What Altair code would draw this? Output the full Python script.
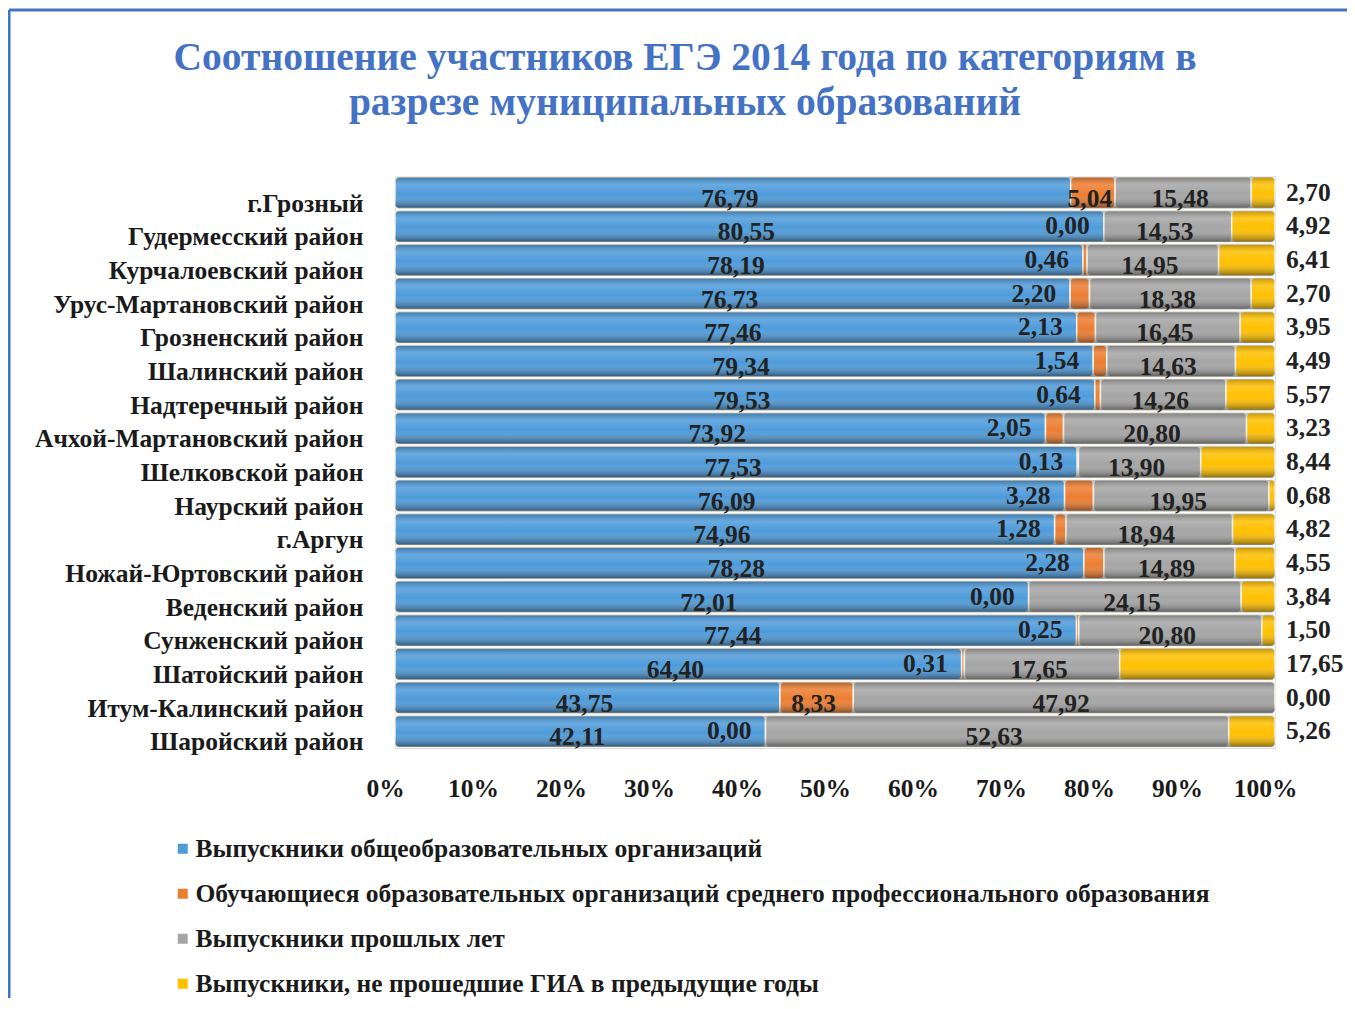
import altair as alt
import pandas as pd

districts = ["г.Грозный", "Гудермесский район", "Курчалоевский район",
             "Урус-Мартановский район", "Грозненский район", "Шалинский район",
             "Надтеречный район", "Ачхой-Мартановский район", "Шелковской район",
             "Наурский район", "г.Аргун", "Ножай-Юртовский район", "Веденский район",
             "Сунженский район", "Шатойский район", "Итум-Калинский район",
             "Шаройский район"]
school = [76.79, 80.55, 78.19, 76.73, 77.46, 79.34, 79.53, 73.92, 77.53,
          76.09, 74.96, 78.28, 72.01, 77.44, 64.40, 43.75, 42.11]
spo = [5.04, 0.00, 0.46, 2.20, 2.13, 1.54, 0.64, 2.05, 0.13,
       3.28, 1.28, 2.28, 0.00, 0.25, 0.31, 8.33, 0.00]
past = [15.48, 14.53, 14.95, 18.38, 16.45, 14.63, 14.26, 20.80, 13.90,
        19.95, 18.94, 14.89, 24.15, 20.80, 17.65, 47.92, 52.63]
failed = [2.70, 4.92, 6.41, 2.70, 3.95, 4.49, 5.57, 3.23, 8.44,
          0.68, 4.82, 4.55, 3.84, 1.50, 17.65, 0.00, 5.26]
series = ["Выпускники общеобразовательных организаций",
          "Обучающиеся образовательных организаций среднего профессионального образования",
          "Выпускники прошлых лет",
          "Выпускники, не прошедшие ГИА в предыдущие годы"]
colors = ["#4E9BDA", "#ED7D31", "#A5A5A5", "#FFC000"]
x_ticks = [0, 0.1, 0.2, 0.3, 0.4, 0.5, 0.6, 0.7, 0.8, 0.9, 1.0]

rows = []
for i, d in enumerate(districts):
    for k, vals in enumerate([school, spo, past, failed]):
        rows.append({"district": d, "series": series[k], "order": k, "value": vals[i]})
df = pd.DataFrame(rows)

FONT = "Liberation Serif"
FS = 25.5

xaxis = alt.Axis(values=x_ticks, format=".0%", labelFont=FONT, labelFontSize=FS,
                 labelFontWeight="bold", labelColor="#1a1a1a", labelPadding=28,
                 labelOffset=-10, labelFlush=False, ticks=False, domain=False,
                 grid=False, title=None)
yaxis = alt.Axis(labelFont=FONT, labelFontSize=FS, labelFontWeight="bold",
                 labelColor="#1a1a1a", labelPadding=32, labelOffset=11,
                 ticks=False, domain=False, grid=False, title=None, labelLimit=400)

X = lambda f: alt.X(f, scale=alt.Scale(domain=[0, 1], nice=False), axis=xaxis)
Y = alt.Y("district:N", sort=districts, axis=yaxis,
          scale=alt.Scale(paddingInner=0.07, paddingOuter=0.03))

base = alt.Chart(df).transform_stack(
    stack="value", as_=["x0", "x1"], groupby=["district"],
    sort=[alt.SortField("order", order="ascending")], offset="normalize"
).transform_calculate(
    mid="(datum.x0 + datum.x1) / 2",
    label="replace(format(datum.value, '.2f'), '.', ',')"
)

bars = base.mark_bar(stroke="#f4f1e6", strokeWidth=1.5, cornerRadius=4).encode(
    x=X("x0:Q"), x2="x1:Q", y=Y,
    color=alt.Color("series:N", scale=alt.Scale(domain=series, range=colors),
                    legend=alt.Legend(orient="none", legendX=-225, legendY=660,
                                      direction="vertical", title=None,
                                      symbolType="square", symbolSize=100,
                                      symbolStrokeWidth=0, labelFont=FONT,
                                      labelFontSize=FS, labelFontWeight="bold",
                                      labelColor="#1a1a1a", labelLimit=1300,
                                      labelOffset=0, rowPadding=18)),
)

shade = alt.Chart(pd.DataFrame({"district": districts})).mark_bar(
    cornerRadius=4,
    color=alt.LinearGradient(
        gradient="linear", x1=0, x2=0, y1=0, y2=1,
        stops=[alt.GradientStop(offset=0, color="rgba(0,0,0,0.25)"),
               alt.GradientStop(offset=0.25, color="rgba(255,255,255,0.15)"),
               alt.GradientStop(offset=0.55, color="rgba(255,255,255,0.0)"),
               alt.GradientStop(offset=1, color="rgba(0,0,0,0.45)")])
).encode(x=alt.datum(0), x2=alt.datum(1), y=Y)

txt_style = dict(font=FONT, fontSize=FS, fontWeight="bold", color="#222222", baseline="middle")

center_lbl = base.transform_filter(
    "datum.order == 0 || datum.order == 2 || (datum.order == 1 && datum.value >= 5)"
).mark_text(align="center", dx=-3, dy=6, **txt_style).encode(
    x=X("mid:Q"), y=Y, text="label:N")

small_orange = base.transform_filter(
    "datum.order == 1 && datum.value < 5"
).mark_text(align="right", dx=-14, dy=0, **txt_style).encode(
    x=X("x0:Q"), y=Y, text="label:N")

yellow_lbl = base.transform_filter("datum.order == 3").mark_text(
    align="left", dx=11, dy=0, **txt_style).encode(
    x=X("x1:Q"), y=Y, text="label:N")

frame_df = pd.DataFrame({"k": [0]})
frame_top = alt.Chart(frame_df).mark_rule(color="#4472C4", strokeWidth=3).encode(
    x=alt.value(-386), x2=alt.value(960), y=alt.value(-166))
frame_left = alt.Chart(frame_df).mark_rule(color="#4472C4", strokeWidth=3).encode(
    x=alt.value(-386), y=alt.value(-166), y2=alt.value(840))

chart = alt.layer(frame_top, frame_left, bars, shade, center_lbl, small_orange, yellow_lbl).properties(
    width=880, height=572,
    title=alt.TitleParams(
        text=["Соотношение участников ЕГЭ 2014 года по категориям в",
              "разрезе муниципальных образований"],
        font=FONT, fontSize=39.5, fontWeight="bold", color="#4472C4",
        anchor="middle", frame="group", dx=-150, dy=115, offset=0, lineHeight=45),
    autosize=alt.AutoSizeParams(type="none"),
    padding={"left": 387, "top": 168, "right": 72, "bottom": 250},
).configure_view(stroke=None).configure(background="white")

chart.save("out.html", embed_options={"renderer": "svg", "actions": False})
